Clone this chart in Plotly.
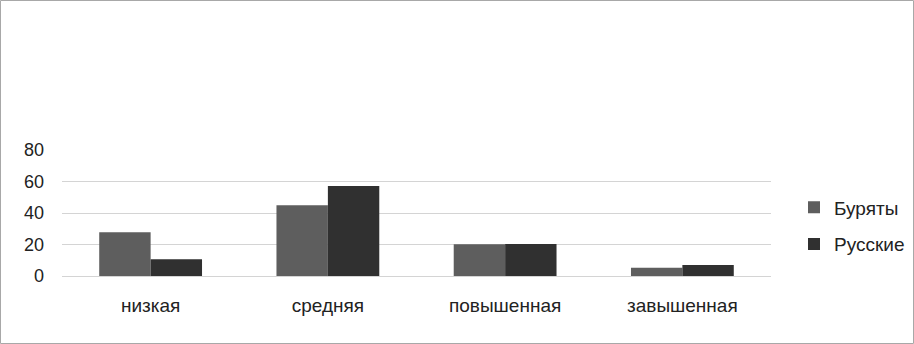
import plotly.graph_objects as go

categories = ["низкая", "средняя", "повышенная", "завышенная"]
buryaty = [27.7, 44.9, 20.1, 5.3]
russkie = [10.6, 57.1, 20.3, 7.0]
y_ticks = [0, 20, 40, 60, 80]

fig = go.Figure()
fig.add_trace(go.Bar(x=categories, y=buryaty, name="Буряты", legendgroup="b",
                     marker=dict(color="#5e5e5e", line=dict(width=0))))
fig.add_trace(go.Bar(x=categories, y=russkie, name="Русские", legendgroup="r",
                     marker=dict(color="#303030", line=dict(width=0))))

W, H = 914, 344
L, R, T, B = 62, 143, 150, 68
pw, ph = W - L - R, H - T - B

def px(x):
    return (x - L) / pw

def py(y):
    return (H - B - y) / ph

fig.update_layout(
    width=W, height=H,
    margin=dict(l=L, r=R, t=T, b=B, autoexpand=False),
    paper_bgcolor="white", plot_bgcolor="white",
    barmode="group", bargap=0.42, bargroupgap=0,
    font=dict(family="Liberation Sans, Arial, sans-serif", size=19, color="#222222"),
    showlegend=True,
    legend=dict(x=px(794), y=py(226), xanchor="left", yanchor="middle",
                font=dict(size=19, color="#222222"), traceorder="grouped",
                tracegroupgap=9, itemwidth=30, bgcolor="rgba(0,0,0,0)"),
    xaxis=dict(showgrid=False, showline=False, ticks="", ticklabelstandoff=16,
               tickfont=dict(size=19), automargin=False),
    yaxis=dict(range=[0, 80], tickvals=y_ticks, showgrid=True, gridcolor="#d4d4d4",
               gridwidth=1, zeroline=True, zerolinecolor="#d4d4d4", zerolinewidth=1,
               showline=False, ticks="", ticklabelstandoff=17, tickfont=dict(size=18),
               automargin=False),
    shapes=[dict(type="rect", xref="paper", yref="paper",
                 x0=px(0.5), x1=px(913.5), y0=py(343.5), y1=py(0.5),
                 line=dict(color="#a8a8a8", width=1), fillcolor="rgba(0,0,0,0)",
                 layer="below")],
)

fig.write_html("out.html", config={"displayModeBar": False},
               post_script="document.body.style.margin='0';document.body.style.overflow='hidden';")
